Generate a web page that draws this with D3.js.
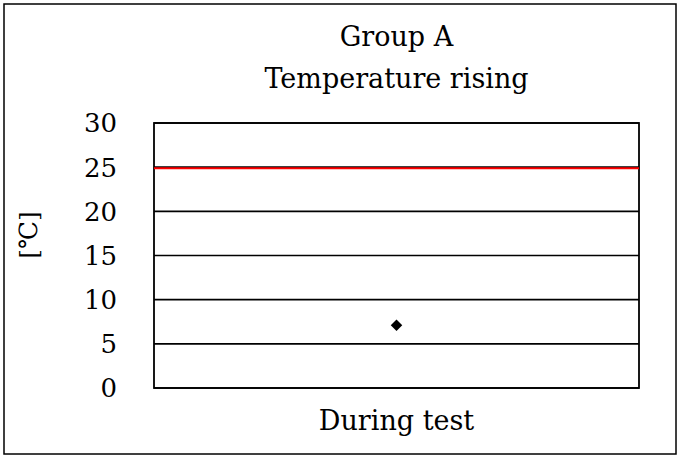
<!DOCTYPE html>
<html>
<head>
<meta charset="utf-8">
<script src="https://cdn.jsdelivr.net/npm/d3@7"></script>
<style>
  body { margin: 0; background: #fff; }
  text { font-family: "DejaVu Serif", "Liberation Serif", serif; fill: #000; }
</style>
</head>
<body>
<div id="chart"></div>
<script>
// chart data
const categories = ['During test'];
const pointValues = [7.1];
const limitValue = [25];
const yTicks = [0, 5, 10, 15, 20, 25, 30];
const titleLines = ['Group A', 'Temperature rising'];

const svgWidth = 680;
const svgHeight = 457;
const margin = { top: 123, right: 41, bottom: 69, left: 154 };
const width = svgWidth - margin.left - margin.right;
const height = svgHeight - margin.top - margin.bottom;

const svg = d3.select('#chart')
    .append('svg')
    .attr('width', svgWidth)
    .attr('height', svgHeight);

// outer frame
svg.append('rect')
    .attr('x', 4).attr('y', 4)
    .attr('width', svgWidth - 8).attr('height', svgHeight - 7)
    .attr('fill', 'none')
    .attr('stroke', '#000')
    .attr('stroke-width', 1.5);

// title
svg.selectAll('.title')
    .data(titleLines)
    .enter()
    .append('text')
    .attr('x', margin.left + width / 2)
    .attr('y', (d, i) => 46 + i * 42)
    .attr('text-anchor', 'middle')
    .style('font-size', '27px')
    .text(d => d);

const chartGroup = svg.append('g')
    .attr('transform', `translate(${margin.left}, ${margin.top})`);

const x = d3.scaleBand().domain(categories).range([0, width]);
const y = d3.scaleLinear().domain([0, 30]).range([height, 0]);

// grid lines
chartGroup.selectAll('.grid')
    .data(yTicks)
    .enter()
    .append('line')
    .attr('x1', 0).attr('x2', width)
    .attr('y1', d => y(d)).attr('y2', d => y(d))
    .attr('stroke', '#000')
    .attr('stroke-width', 1.6);

// y tick labels
chartGroup.selectAll('.ytick')
    .data(yTicks)
    .enter()
    .append('text')
    .attr('x', -37)
    .attr('y', d => y(d))
    .attr('dy', '0.36em')
    .attr('text-anchor', 'end')
    .style('font-size', '26px')
    .text(d => d);

// plot frame
chartGroup.append('rect')
    .attr('width', width).attr('height', height)
    .attr('fill', 'none')
    .attr('stroke', '#000')
    .attr('stroke-width', 1.8);

// red limit line
chartGroup.selectAll('.limit')
    .data(limitValue)
    .enter()
    .append('line')
    .attr('x1', 0).attr('x2', width)
    .attr('y1', d => y(d) + 1).attr('y2', d => y(d) + 1)
    .attr('stroke', '#ff0000')
    .attr('stroke-width', 2);

// data point (diamond)
chartGroup.selectAll('.pt')
    .data(pointValues)
    .enter()
    .append('path')
    .attr('d', d3.symbol().type(d3.symbolDiamond2).size(85))
    .attr('transform', (d, i) => `translate(${x(categories[i]) + x.bandwidth() / 2}, ${y(d)})`)
    .attr('fill', '#000');

// x category labels
chartGroup.selectAll('.xlab')
    .data(categories)
    .enter()
    .append('text')
    .attr('x', d => x(d) + x.bandwidth() / 2)
    .attr('y', height + 42)
    .attr('text-anchor', 'middle')
    .style('font-size', '27px')
    .text(d => d);

// y axis label
svg.append('text')
    .attr('transform', 'translate(28, 235) rotate(-90)')
    .attr('text-anchor', 'middle')
    .attr('dy', '0.36em')
    .style('font-size', '25px')
    .text('[℃]');
</script>
</body>
</html>
